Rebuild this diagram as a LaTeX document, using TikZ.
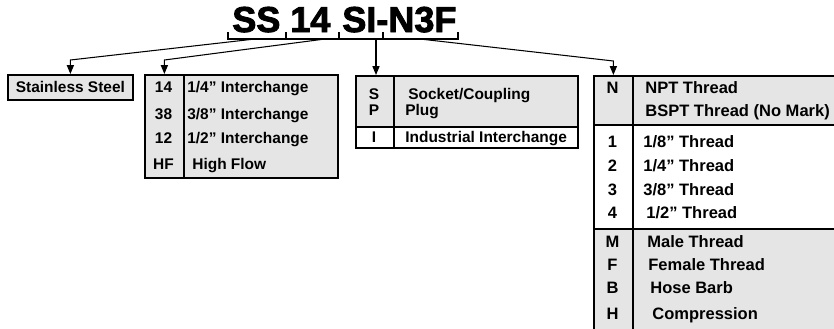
\documentclass[tikz,border=0pt]{standalone}
\usepackage{fontspec}
\setmainfont{Liberation Sans}
\newfontfamily\titlefont{Liberation Sans}[BoldFeatures={FakeBold=2.5}]
\usetikzlibrary{arrows.meta, calc, positioning}

\begin{document}
\begin{tikzpicture}
  [x=0.02cm,y=-0.02cm,
   every node/.style={inner sep=0pt, font=\bfseries\fontsize{8.8}{10}\selectfont},
   cell/.style 2 args={draw, line width=1pt, anchor=north west,
     minimum width=#1*0.02cm, minimum height=#2*0.02cm},
   grey/.style={fill=black!10},
   key/.style={anchor=base},
   txt/.style={anchor=base west},
   big/.style={font=\bfseries\fontsize{9.4}{11}\selectfont},
   title/.style={anchor=base west, font=\titlefont\bfseries\fontsize{20.5}{24}\selectfont},
   conn/.style={line width=0.6pt, -{Triangle[width=4pt,length=5pt]}},
   brace/.style={line width=1.1pt}]
  \useasboundingbox (0,0) rectangle (834,328);
  \clip (0,0) rectangle (834,328);

  % part number
  \node[title] (tSS) at (232,32) {SS};
  \node[title] (t14) at (290,32) {14};
  \node[title] (tSI) at (342,32) {SI-N3F};
  \draw[brace] (228,32) -- (228,39) -- (458,39) -- (458,32);
  \foreach \x in {286,339,383}
    \draw[brace] (\x,39) -- (\x,32);
  \coordinate (brSS) at (255,39);
  \coordinate (br14) at (325,39);
  \coordinate (brSI) at (376,39);
  \coordinate (brN3F) at (420,39);

  % material
  \node[cell={125}{25}, grey] (steel) at (7,74) {Stainless Steel};

  % size
  \node[cell={39}{103}, grey] (key14) at (144,74) {};
  \node[cell={154}{103}, grey] (desc14) at (183,74) {};
  \foreach \k/\d/\x/\y [count=\i] in {14/{1/4” Interchange}/187/92,
      38/{3/8” Interchange}/187/119, 12/{1/2” Interchange}/187/143,
      HF/{High Flow}/192/169}
    {\node[key] (szk\i) at (163.5,\y) {\k};
     \node[txt] (szd\i) at (\x,\y) {\d};}

  % type
  \node[cell={38}{51}, grey] (spkey) at (355,75) {};
  \node[cell={184}{51}, grey] (spdesc) at (393,75) {};
  \node[cell={38}{21}] (ikey) at (355,126) {};
  \node[cell={184}{21}] (idesc) at (393,126) {};
  \foreach \k/\d/\x/\y [count=\i] in {S/{Socket/Coupling}/408/99,
      P/Plug/405/115, I/{Industrial Interchange}/405/142}
    {\node[key] (tpk\i) at (374,\y) {\k};
     \node[txt] (tpd\i) at (\x,\y) {\d};}

  % end connection
  \node[cell={39}{49}, grey] (nkey) at (593,75) {};
  \node[cell={218}{49}, grey] (ndesc) at (632,75) {};
  \node[cell={39}{104}] (skey) at (593,124) {};
  \node[cell={218}{104}] (sdesc) at (632,124) {};
  \node[cell={39}{100.5}, grey] (ekey) at (593,228) {};
  \node[cell={218}{100.5}, grey] (edesc) at (632,228) {};
  \node[key, big] (thk) at (612.5,93) {N};
  \node[txt, big] (thd1) at (645,93) {NPT Thread};
  \node[txt, big] (thd2) at (645,116) {BSPT Thread (No Mark)};
  \foreach \k/\d/\x/\y [count=\i] in {1/{1/8” Thread}/643/147,
      2/{1/4” Thread}/643/171, 3/{3/8” Thread}/643/195,
      4/{1/2” Thread}/646/218, M/{Male Thread}/647/247,
      F/{Female Thread}/648/270, B/{Hose Barb}/650/293,
      H/Compression/652/319}
    {\node[key, big] (enk\i) at (612.5,\y) {\k};
     \node[txt, big] (end\i) at (\x,\y) {\d};}

  % connectors
  \draw[conn] (brSS) -- ($(steel.north)+(0,-14)$) -- (steel.north);
  \draw[conn] (br14) -- ($(key14.north)+(0,-14)$) -- (key14.north);
  \draw[conn] (brSI) -- (brSI |- spkey.north);
  \draw[conn] (brN3F) -- ($(nkey.north)+(0,-14)$) -- (nkey.north);

\end{tikzpicture}
\end{document}
